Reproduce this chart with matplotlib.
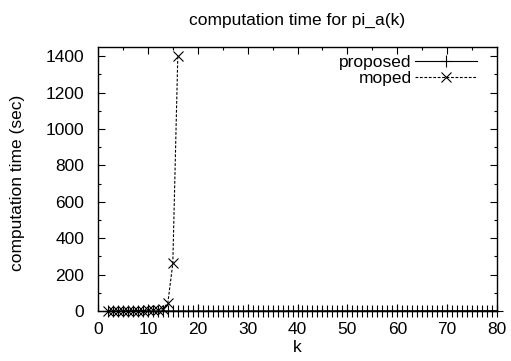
import matplotlib
matplotlib.use("Agg")
import matplotlib.pyplot as plt
from matplotlib.ticker import MultipleLocator

plt.rcParams['font.family'] = ['Liberation Sans', 'DejaVu Sans']

proposed_k = list(range(2, 81))
proposed_t = [0.05 + 0.02 * i for i in range(len(proposed_k))]

moped_k = [2, 3, 4, 5, 6, 7, 8, 9, 10, 11, 12, 13, 14, 15, 16]
moped_t = [0.01, 0.02, 0.05, 0.1, 0.2, 0.4, 0.8, 1.5, 3, 5, 8, 12, 44, 262, 1400]

title = "computation time for pi_a(k)"
xlabel = "k"
ylabel = "computation time (sec)"

FS = 12.5
W, H = 511, 361
fig = plt.figure(figsize=(W/100, H/100), dpi=100)
ax = fig.add_axes([98/W, 1 - 311/H, (497-98)/W, (311-47)/H])

ax.plot(proposed_k, proposed_t, color='black', lw=0.8, marker='+', ms=8, mew=0.8,
        label='proposed', clip_on=False, zorder=3)
ax.plot(moped_k, moped_t, color='black', lw=0.8, ls=(0, (2.5, 1.5)), marker='x', ms=7, mew=0.8,
        label='moped', clip_on=False, zorder=3)

ax.set_xlim(0, 80)
ax.set_ylim(0, 1450)
ax.xaxis.set_major_locator(MultipleLocator(10))
ax.xaxis.set_minor_locator(MultipleLocator(5))
ax.set_yticks([0, 200, 400, 600, 800, 1000, 1200, 1400])
ax.yaxis.set_minor_locator(MultipleLocator(100))
ax.tick_params(which='both', direction='in', top=True, right=True, labelsize=FS, colors='black')
ax.tick_params(axis='x', which='major', pad=8)
ax.tick_params(axis='y', which='major', pad=10)
ax.tick_params(which='major', length=5, width=0.8)
ax.tick_params(which='minor', length=2.5, width=0.8)
for s in ax.spines.values():
    s.set_linewidth(1.0)
    s.set_color('black')

fig.text((98+497)/2/W, 1 - 20/H, title, fontsize=FS, ha='center', va='center')
ax.set_xlabel(xlabel, fontsize=FS)
ax.xaxis.set_label_coords(0.5, (311-347)/264, transform=ax.transAxes)
ax.xaxis.label.set_va('center')
ax.set_ylabel(ylabel, fontsize=FS)
ax.yaxis.set_label_coords((18-98)/399, (311-183)/264, transform=ax.transAxes)
ax.yaxis.label.set_va('center')

leg = ax.legend(loc='upper right', bbox_to_anchor=((477-98)/399, (311-55)/264), frameon=False,
                markerfirst=False, fontsize=FS, handlelength=3.6, handletextpad=0.15,
                borderpad=0, borderaxespad=0, labelspacing=0.06)

fig.savefig("out.png", dpi=100)
